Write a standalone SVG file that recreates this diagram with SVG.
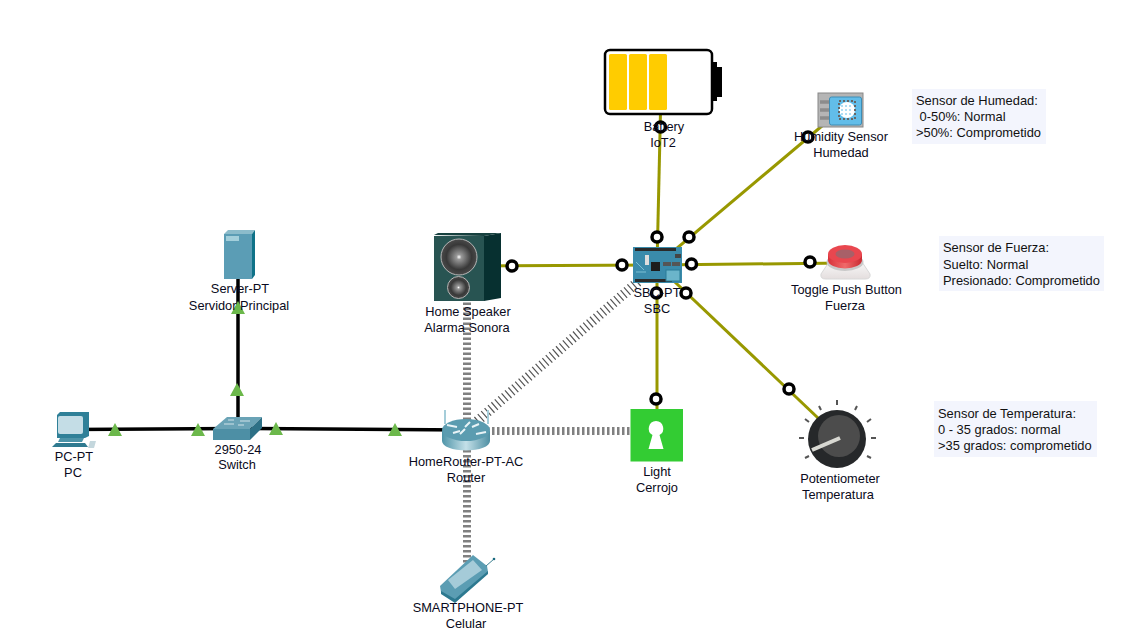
<svg xmlns="http://www.w3.org/2000/svg" width="1132" height="641" viewBox="0 0 1132 641">
<defs>
<style>
.l{font-family:"Liberation Sans",Arial,sans-serif;font-size:12.800px;fill:#0a0a20;text-anchor:middle}
.n{font-family:"Liberation Sans",Arial,sans-serif;font-size:12.900px;fill:#111}
.w{stroke:#000;stroke-width:3.500;fill:none}
.i{stroke:#989800;stroke-width:3;fill:none}
.r{stroke:#000;stroke-width:3.500;fill:#fff}
.t{fill:#6cb84b}
.a{stroke:#808080;stroke-width:8;stroke-dasharray:2.500 2.500;fill:none}
.b{fill:#f3f5fd}
</style>
<linearGradient id="rt" x1="0" x2="1" y1="0" y2="0"><stop offset="0" stop-color="#4e94a8"/><stop offset=".5" stop-color="#c4e0e8"/><stop offset="1" stop-color="#4e8fa3"/></linearGradient>
<radialGradient id="spk"><stop offset="0" stop-color="#fff"/><stop offset=".14" stop-color="#999"/><stop offset=".7" stop-color="#383838"/><stop offset="1" stop-color="#4a4a4a"/></radialGradient>
<linearGradient id="btn" x1="0" x2="1" y1="0" y2="0"><stop offset="0" stop-color="#d8323a"/><stop offset=".5" stop-color="#f06a6a"/><stop offset="1" stop-color="#c92a32"/></linearGradient>
<linearGradient id="base" x1="0" x2="0" y1="0" y2="1"><stop offset="0" stop-color="#f8f8f8"/><stop offset="1" stop-color="#e4dede"/></linearGradient>
</defs>
<rect width="1132" height="641" fill="#fff"/>
<g id="connectors">
<path class="a" d="M467 430V265"/>
<path class="a" d="M467 430V575"/>
<path class="a" d="M467 431H640"/>
<path d="M467 430L640 280" stroke="#555" stroke-width="10" stroke-dasharray="1.200 3.300" fill="none"/>
<path class="w" d="M72 429.500L237 428.500L467 430"/>
<path class="w" d="M238 255V429"/>
<path class="i" d="M661 90L657 265"/>
<path class="i" d="M657 265L835 115"/>
<path class="i" d="M657 265L845 263"/>
<path class="i" d="M467 266L657 265"/>
<path class="i" d="M657 265V425"/>
<path class="i" d="M657 265L838 437"/>
</g>
<g id="pc">
<path d="M57 415L60 412H89V436L85 438H57Z" fill="#2f8098"/>
<rect x="58" y="416" width="25" height="18" rx="2" fill="#c4dde6"/>
<path d="M60 438H84L82 442H58Z" fill="#4c93a8"/>
<path d="M56 443H85L88 447H52Z" fill="#2f7a90"/>
<path d="M90 441h6l-2 7h-6z" fill="#c4d7dd"/>
</g>
<g id="switch">
<path d="M213 429L227 417H262L250 429Z" fill="#6aa3b6"/>
<path d="M213 429H250V440H213Z" fill="#4d8fa5"/>
<path d="M250 429L262 417V428L250 440Z" fill="#2d7086"/>
<path d="M224 424h10M240 421h10M228 420h6M238 425h6" stroke="#cfe2e8" stroke-width="1"/>
</g>
<g id="server">
<path d="M224 234L228 230H255L252 234Z" fill="#8cbccb"/>
<rect x="224" y="234" width="28" height="45" fill="#5b9db5"/>
<path d="M252 234L255 230V275L252 279Z" fill="#0f7288"/>
<rect x="226" y="236" width="13" height="5" fill="#a3cfdb"/>
</g>
<g id="router">
<path d="M445 410V424M488 410V424" stroke="#a5cdd9" stroke-width="2"/>
<path d="M442 431V441A24 9.500 0 0 0 490 441V431Z" fill="url(#rt)"/>
<ellipse cx="466" cy="430" rx="24" ry="11" fill="#5b9cb0"/>
<path d="M447 425l10 2M476 434l10-2M460 434l5-5M470 422l-5 5M472 427l7-3M453 433l7-2" stroke="#e8f3f6" stroke-width="2"/>
</g>
<g id="speaker">
<path d="M434 235L438 233H501L484 236Z" fill="#17413f"/>
<rect x="434" y="236" width="50" height="65" fill="#285452"/>
<path d="M484 236L501 233V298L484 301Z" fill="#073030"/>
<circle cx="459" cy="257" r="18" fill="url(#spk)" stroke="#b5b5b5" stroke-width="1"/>
<circle cx="458.500" cy="287.500" r="11" fill="url(#spk)" stroke="#b5b5b5" stroke-width="1"/>
</g>
<g id="battery">
<rect x="605" y="50" width="107" height="64" rx="5" fill="#fff" stroke="#000" stroke-width="2.500"/>
<rect x="609" y="54" width="18" height="56" rx="1.500" fill="#ffcc00"/>
<rect x="629" y="54" width="18" height="56" rx="1.500" fill="#ffcc00"/>
<rect x="649" y="54" width="18" height="56" rx="1.500" fill="#ffcc00"/>
<path d="M712 62H717V67H722V97H717V101H712Z" fill="#000"/>
</g>
<g id="sbc">
<rect x="633" y="247" width="49" height="36" fill="#3a8bab"/>
<rect x="635" y="248" width="41" height="3" fill="#2a2a2a"/>
<rect x="635" y="279" width="37" height="3" fill="#2a2a2a"/>
<rect x="651" y="262" width="9" height="9" fill="#1d1d1d"/>
<rect x="663" y="262" width="8" height="4" fill="#555"/>
<rect x="672" y="262" width="8" height="4" fill="#555"/>
<rect x="675" y="254" width="6" height="4" fill="#444"/>
<rect x="666" y="270" width="14" height="11" fill="#6bb5ca" stroke="#2b7c97"/>
<rect x="645" y="255" width="4" height="10" fill="#ddd"/>
<path d="M636 262l8 8M636 272h10" stroke="#7cc0d4" stroke-width="1"/>
</g>
<g id="humidity">
<rect x="818" y="93" width="45" height="34" fill="#b5b5b5" stroke="#888" stroke-width="1"/>
<path d="M820 102H830M820 110H830M820 118H830" stroke="#8c8c8c" stroke-width="3.500"/>
<rect x="829.500" y="97" width="32" height="28" rx="2" fill="#62bde9" stroke="#3d8db5"/>
<circle cx="847" cy="110" r="8" fill="#fff"/>
<rect x="839" y="101" width="16" height="18" fill="none" stroke="#666" stroke-width="2" stroke-dasharray="2 2"/>
<path d="M841 106h12M841 110h12M841 114h12" stroke="#62bde9" stroke-width="1" stroke-dasharray="2 2"/>
</g>
<g id="button">
<path d="M829 262H862L870 274Q871 279 865 279H826Q820 279 821 274Z" fill="url(#base)" stroke="#d8d8d8"/>
<ellipse cx="845" cy="262" rx="18.500" ry="9" fill="#c9c9c9"/>
<path d="M828 254V260A17 8.500 0 0 0 862 260V254Z" fill="url(#btn)"/>
<ellipse cx="845" cy="254" rx="17" ry="9" fill="#e9474f"/>
<ellipse cx="845" cy="254" rx="9.500" ry="4.500" fill="#a86068"/>
</g>
<g id="potentiometer">
<path d="M837 400v5M819 406l2 4M857 406l-2 4M805 419l4 3M871 419l-4 3M799 438h5M871 438h5M805 458l4-2M871 458l-4-2" stroke="#555" stroke-width="2"/>
<circle cx="837" cy="439" r="29" fill="#26282a"/>
<circle cx="839" cy="436" r="21" fill="#4c4c4c"/>
<path d="M840 438L812 450" stroke="#d8d8d2" stroke-width="4"/>
</g>
<g id="light">
<rect x="630.500" y="409" width="52.500" height="52.500" fill="#33cc33"/>
<path d="M656 421a7.500 7.500 0 0 1 3.500 14L663.500 449H648.500L652.500 435a7.500 7.500 0 0 1 3.500-14Z" fill="#fff"/>
</g>
<g id="phone">
<path d="M440 586L473 555L487 566L488 572L455 600L441 592Z" fill="#5b9db3"/>
<path d="M448 580L473 560L482 570L455 589Z" fill="#a5cbd8"/>
<path d="M441 591L455 599L488 571L488 574L455 603L441 594Z" fill="#2d7990"/>
<path d="M486 566L494 559" stroke="#3d8090"/><circle cx="494" cy="559" r="1.300" fill="#1a6a80"/>
</g>
<g id="rings">
<circle class="r" cx="660.500" cy="127" r="5"/>
<circle class="r" cx="657" cy="237" r="5"/>
<circle class="r" cx="689" cy="237" r="5"/>
<circle class="r" cx="808" cy="137" r="5"/>
<circle class="r" cx="691.500" cy="264" r="5"/>
<circle class="r" cx="810" cy="262" r="5"/>
<circle class="r" cx="622" cy="265" r="5"/>
<circle class="r" cx="512" cy="266" r="5"/>
<circle class="r" cx="656.500" cy="293" r="5"/>
<circle class="r" cx="686" cy="293" r="5"/>
<circle class="r" cx="789" cy="389" r="5"/>
<circle class="r" cx="656" cy="399" r="5"/>
</g>
<g id="triangles">
<path class="t" d="M115 423l7 13h-14z"/>
<path class="t" d="M198 423l7 13h-14z"/>
<path class="t" d="M276 422l7 13h-14z"/>
<path class="t" d="M395 423l7 13h-14z"/>
<path class="t" d="M237 383l7 13h-14z"/>
<path class="t" d="M238 301l7 13h-14z"/>
</g>
<g id="labels">
<text class="l" x="74" y="461">PC-PT</text><text class="l" x="73" y="477">PC</text>
<text class="l" x="238" y="454">2950-24</text><text class="l" x="237" y="469">Switch</text>
<text class="l" x="240" y="293">Server-PT</text><text class="l" x="239" y="310">Servidor Principal</text>
<text class="l" x="468" y="316">Home Speaker</text><text class="l" x="467" y="332">Alarma Sonora</text>
<text class="l" x="466" y="466">HomeRouter-PT-AC</text><text class="l" x="466" y="482">Router</text>
<text class="l" x="468" y="612">SMARTPHONE-PT</text><text class="l" x="466" y="628">Celular</text>
<text class="l" x="664" y="131">Battery</text><text class="l" x="663" y="147">IoT2</text>
<text class="l" x="657" y="297">SBC-PT</text><text class="l" x="657" y="313">SBC</text>
<text class="l" x="841" y="141">Humidity Sensor</text><text class="l" x="841" y="157">Humedad</text>
<text class="l" x="846.500" y="294">Toggle Push Button</text><text class="l" x="845" y="310">Fuerza</text>
<text class="l" x="840" y="483">Potentiometer</text><text class="l" x="838" y="499">Temperatura</text>
<text class="l" x="657" y="476">Light</text><text class="l" x="657" y="492">Cerrojo</text>
</g>
<g id="note-humedad"><rect class="b" x="912" y="89" width="134" height="55"/>
<text class="n" x="916" y="105">Sensor de Humedad:</text><text class="n" x="916" y="121" xml:space="preserve"> 0-50%: Normal</text><text class="n" x="916" y="137">&gt;50%: Comprometido</text></g>
<g id="note-fuerza"><rect class="b" x="939" y="236" width="165" height="55"/>
<text class="n" x="943" y="252">Sensor de Fuerza:</text><text class="n" x="943" y="269">Suelto: Normal</text><text class="n" x="943" y="285">Presionado: Comprometido</text></g>
<g id="note-temp"><rect class="b" x="934" y="401" width="163" height="56"/>
<text class="n" x="938" y="418">Sensor de Temperatura:</text><text class="n" x="938" y="434">0 - 35 grados: normal</text><text class="n" x="938" y="450">&gt;35 grados: comprometido</text></g>
</svg>
